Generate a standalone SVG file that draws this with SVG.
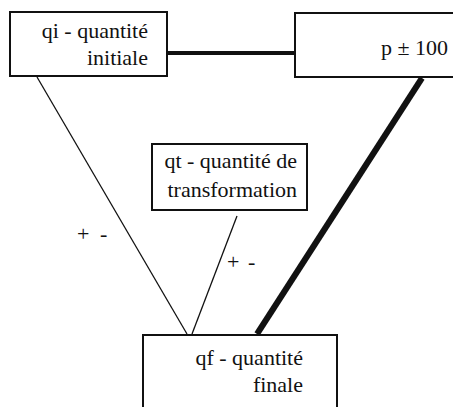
<svg xmlns="http://www.w3.org/2000/svg" width="453" height="407" viewBox="0 0 453 407">
<style>
.box{fill:#fff;stroke:#111;stroke-width:2}
.thin{stroke:#111;stroke-width:1.3;fill:none}
.thick{stroke:#111;fill:none}
</style>
<rect width="453" height="407" fill="#fff"/>
<g font-family="Liberation Serif, Times New Roman, serif" font-size="22" fill="#111">
<g id="connectors">
<line class="thick" x1="167" y1="53" x2="295" y2="53" stroke-width="4"/>
<line class="thick" x1="422" y1="78" x2="257" y2="334" stroke-width="6"/>
<line class="thin" x1="37" y1="77" x2="187" y2="334"/>
<line class="thin" x1="237" y1="216" x2="192" y2="334"/>
<text x="77" y="241">+<tspan x="100">-</tspan></text>
<text x="227" y="269">+<tspan x="248">-</tspan></text>
</g>
<g text-anchor="end">
<g id="qi">
<rect class="box" x="10" y="12" width="157" height="64"/>
<text x="148" y="38">qi - quantité</text>
<text x="148" y="65">initiale</text>
</g>
<g id="p">
<rect class="box" x="295" y="13" width="165" height="64"/>
<text x="448" y="55">p ± 100</text>
</g>
<g id="qt">
<rect class="box" x="152" y="144" width="155" height="66"/>
<text x="297" y="168">qt - quantité de</text>
<text x="297" y="197">transformation</text>
</g>
<g id="qf">
<rect class="box" x="143" y="335" width="194" height="80"/>
<text x="303" y="365">qf - quantité</text>
<text x="303" y="392">finale</text>
</g>
</g>
</g>
</svg>
